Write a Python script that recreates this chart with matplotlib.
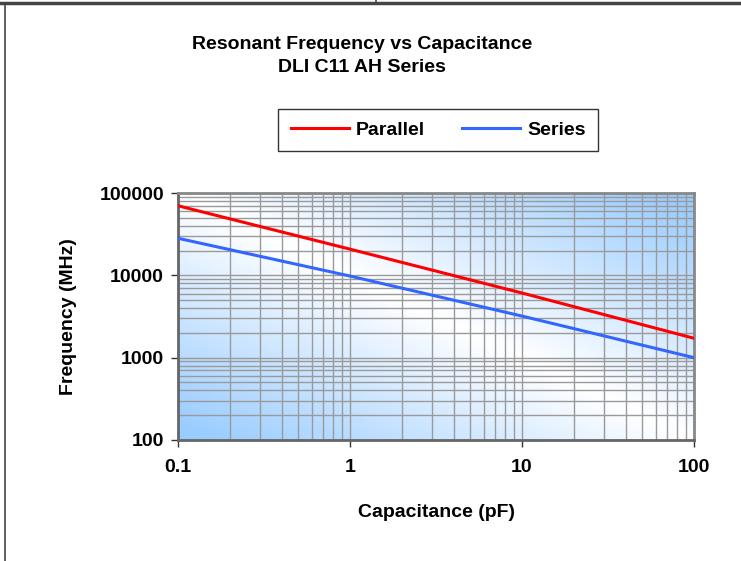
import numpy as np
import matplotlib.pyplot as plt
from matplotlib.colors import LinearSegmentedColormap
from matplotlib.lines import Line2D
from matplotlib.ticker import FixedLocator, LogLocator, NullFormatter

plt.rcParams['font.family'] = ['Liberation Sans', 'DejaVu Sans']
plt.rcParams['font.weight'] = 'bold'

# values
capacitance = [0.1, 1, 10, 100]
parallel_mhz = [70000, 20800, 6100, 1720]
series_mhz = [28200, 9800, 3200, 1000]
x_ticks = [0.1, 1, 10, 100]
x_labels = ['0.1', '1', '10', '100']
y_ticks = [100, 1000, 10000, 100000]
y_labels = ['100', '1000', '10000', '100000']

fs = 14
fig = plt.figure(figsize=(7.41, 5.61), dpi=100)
W, H = 741, 561
ax = fig.add_axes([178 / W, 1 - 440 / H, (694 - 178) / W, (440 - 193) / H])

# diagonal blue-white-blue background
u, v = np.meshgrid(np.linspace(0, 1, 200), np.linspace(0, 1, 200))
grad = np.abs((u + v) - 1.0)
cmap = LinearSegmentedColormap.from_list('bg', ['#ffffff', '#99ccff'])
ax.imshow(grad, extent=[0, 1, 0, 1], transform=ax.transAxes, cmap=cmap,
          aspect='auto', origin='lower', zorder=0, vmin=0, vmax=0.95)

ax.plot(capacitance, parallel_mhz, color='#ff0000', lw=2.2, label='Parallel', zorder=3)
ax.plot(capacitance, series_mhz, color='#3366ff', lw=2.2, label='Series', zorder=3)

ax.set_xscale('log')
ax.set_yscale('log')
ax.set_xlim(0.1, 100)
ax.set_ylim(100, 100000)
ax.xaxis.set_major_locator(FixedLocator(x_ticks))
ax.set_xticklabels(x_labels)
ax.yaxis.set_major_locator(FixedLocator(y_ticks))
ax.set_yticklabels(y_labels)
ax.xaxis.set_minor_locator(LogLocator(base=10, subs=range(2, 10)))
ax.yaxis.set_minor_locator(LogLocator(base=10, subs=range(2, 10)))
ax.xaxis.set_minor_formatter(NullFormatter())
ax.yaxis.set_minor_formatter(NullFormatter())
ax.tick_params(which='minor', length=0)
ax.tick_params(axis='x', which='major', length=5, width=1, color='#333333',
               labelsize=fs, pad=9)
ax.tick_params(axis='y', which='major', length=5, width=1, color='#333333',
               labelsize=fs, pad=5)

ax.grid(True, which='both', color='#9a9a9a', lw=1, zorder=1)
ax.set_axisbelow(True)
for side, sp in ax.spines.items():
    sp.set_color('#888888')
    sp.set_linewidth(2)
ax.spines['left'].set_color('#666666')
ax.spines['bottom'].set_color('#666666')

ax.set_xlabel('Capacitance (pF)', fontsize=fs, fontweight='bold', labelpad=20)
ax.set_ylabel('Frequency (MHz)', fontsize=fs, fontweight='bold', labelpad=16)

fig.text(362 / W, 1 - 56 / H, 'Resonant Frequency vs Capacitance\nDLI C11 AH Series',
         ha='center', va='center', fontsize=fs, fontweight='bold', linespacing=1.45)

leg = fig.legend(loc='center', bbox_to_anchor=(438 / W, 1 - 130 / H), ncol=2,
                 frameon=True, fancybox=False, edgecolor='black', fontsize=fs,
                 handlelength=3.0, handletextpad=0.35, columnspacing=1.9,
                 borderpad=0.65, borderaxespad=0)
leg.get_frame().set_linewidth(1)
leg.get_frame().set_boxstyle('square', pad=0)

# page border remnants at top and left
fig.add_artist(Line2D([0, 1], [1 - 3 / H, 1 - 3 / H], color='#444444', lw=2.5))
fig.add_artist(Line2D([5 / W, 5 / W], [0, 1 - 3 / H], color='#444444', lw=1.2))
fig.add_artist(Line2D([376 / W, 376 / W], [1 - 3 / H, 1], color='#444444', lw=1.2))

plt.savefig('out.png', dpi=100)
